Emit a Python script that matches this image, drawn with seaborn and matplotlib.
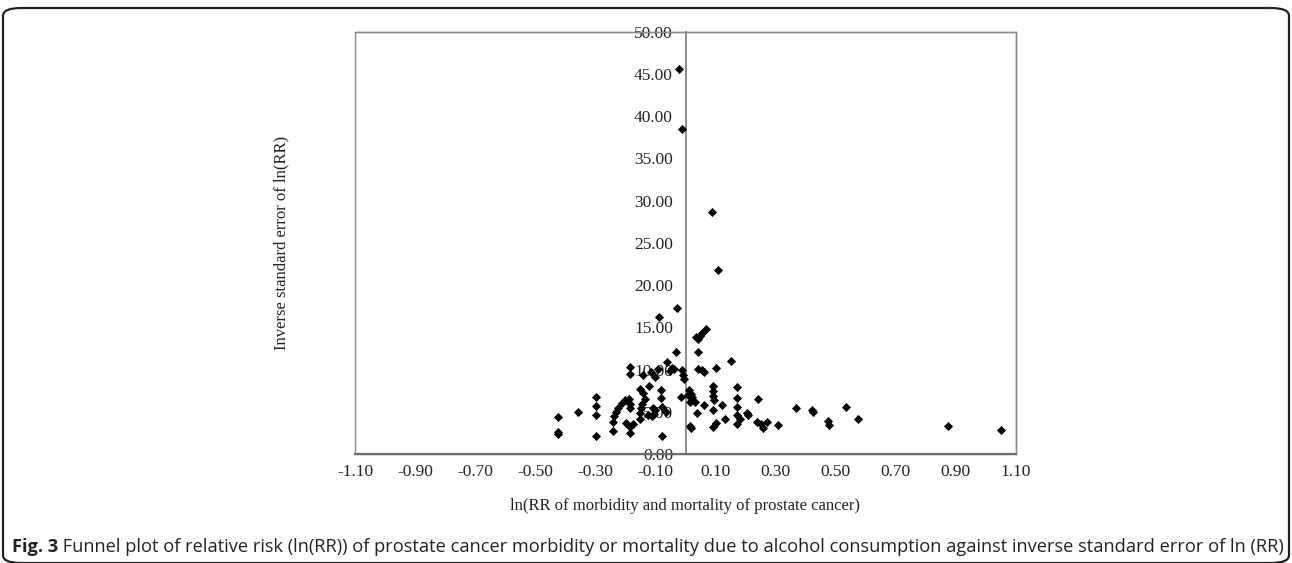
import matplotlib
matplotlib.use("Agg")
import matplotlib.pyplot as plt
import seaborn as sns
import pandas as pd
from matplotlib.patches import FancyBboxPatch

# ln(RR) values (x) and inverse standard error (y)
ln_rr = [
    -0.425, -0.425, -0.425, -0.358, -0.297, -0.297, -0.297, -0.297,
    -0.242, -0.242, -0.238, -0.231, -0.224, -0.212, -0.201, -0.187,
    -0.185, -0.185, -0.185, -0.185, -0.198, -0.185, -0.185, -0.176,
    -0.151, -0.151, -0.149, -0.146, -0.140, -0.151, -0.142, -0.135,
    -0.120, -0.124, -0.112, -0.107, -0.105, -0.101, -0.101, -0.116,
    -0.090, -0.087, -0.082, -0.082, -0.079, -0.079, -0.065, -0.061,
    -0.046, -0.038, -0.030, -0.028, -0.013, -0.007, -0.004, -0.015,
    -0.022, -0.011, -0.052,
    0.087, 0.108, 0.035, 0.043, 0.048, 0.054, 0.069, 0.043,
    0.041, 0.054, 0.062, 0.101, 0.150, 0.093, 0.093, 0.093,
    0.094, 0.013, 0.017, 0.021, 0.015, 0.030, 0.062, 0.039,
    0.093, 0.120, 0.133, 0.172, 0.172, 0.172, 0.172, 0.180,
    0.172, 0.206, 0.209, 0.240, 0.238, 0.250, 0.258, 0.271,
    0.307, 0.368, 0.421, 0.425, 0.473, 0.479, 0.534, 0.575,
    0.874, 1.050, 0.015, 0.019, 0.093, 0.101, 0.009,
]
inv_se = [
    4.42, 2.64, 2.37, 5.01, 6.79, 5.65, 4.66, 2.10,
    2.76, 3.83, 4.50, 5.01, 5.48, 6.00, 6.39, 6.47,
    5.92, 5.41, 10.26, 9.43, 3.63, 3.23, 2.45, 3.55,
    4.10, 4.82, 5.41, 5.92, 9.35, 7.66, 7.18, 6.47,
    8.05, 4.62, 4.50, 5.41, 4.74, 5.21, 9.08, 9.75,
    10.03, 16.25, 7.58, 6.59, 5.55, 2.13, 5.00, 10.93,
    10.14, 10.03, 12.11, 17.30, 9.94, 9.35, 8.84, 6.79,
    45.60, 38.50, 9.87,
    28.70, 21.80, 13.80, 13.60, 14.00, 14.30, 14.80, 12.11,
    10.03, 9.94, 9.75, 10.14, 11.05, 8.05, 7.45, 6.90,
    6.39, 7.58, 7.10, 6.70, 6.19, 6.15, 5.80, 4.89,
    5.21, 5.75, 4.20, 7.90, 6.59, 5.60, 4.62, 4.10,
    3.55, 4.80, 4.62, 6.57, 3.77, 3.60, 3.05, 3.83,
    3.40, 5.43, 5.18, 4.94, 3.94, 3.43, 5.56, 4.18,
    3.37, 2.84, 3.30, 3.10, 3.23, 3.67, 6.98,
]
x_ticks = [-1.10, -0.90, -0.70, -0.50, -0.30, -0.10, 0.10, 0.30, 0.50, 0.70, 0.90, 1.10]
y_ticks = [0, 5, 10, 15, 20, 25, 30, 35, 40, 45, 50]
x_label = "ln(RR of morbidity and mortality of prostate cancer)"
y_label = "Inverse standard error of ln(RR)"
cap_bold = "Fig. 3"
cap_text = (" Funnel plot of relative risk (ln(RR)) of prostate cancer morbidity or mortality "
            "due to alcohol consumption against inverse standard error of ln (RR)")

df = pd.DataFrame({"lnrr": ln_rr, "inv_se": inv_se})

sns.set_style("white")
plt.rcParams["font.family"] = ["Liberation Serif", "DejaVu Serif"]

W, H = 1292, 563
fig = plt.figure(figsize=(W / 100, H / 100), dpi=100)
ax = fig.add_axes([355 / W, 1 - 454 / H, (1016 - 355) / W, (454 - 31.7) / H])

sns.scatterplot(data=df, x="lnrr", y="inv_se", marker="D", color="black",
                s=17, edgecolor="black", linewidth=0.5, ax=ax, zorder=3)

ax.set_xlim(-1.10, 1.10)
ax.set_ylim(0, 50)
ax.set_xticks(x_ticks)
ax.set_xticklabels([f"{v:.2f}" for v in x_ticks])
ax.set_yticks(y_ticks)
ax.set_yticklabels([f"{v:.2f}" for v in y_ticks])

# y axis drawn through x = 0
ax.spines["left"].set_position(("data", 0))
for s in ["top", "right"]:
    ax.spines[s].set_color("#8c8c8c")
    ax.spines[s].set_linewidth(1.0)
ax.spines["left"].set_color("#7a7a7a")
ax.spines["left"].set_linewidth(1.2)
ax.spines["bottom"].set_color("#6e6e6e")
ax.spines["bottom"].set_linewidth(1.6)
ax.patch.set_edgecolor("#8c8c8c")
ax.patch.set_linewidth(1.0)

ax.tick_params(axis="both", which="both", direction="out", length=5, width=0.9,
               color="#6e6e6e", labelsize=12.5, labelcolor="#222222")
ax.tick_params(axis="y", pad=4)
ax.tick_params(axis="x", pad=2)

ax.set_xlabel(x_label, fontsize=12, color="#222222")
ax.set_ylabel(y_label, fontsize=12, color="#222222")
ax.yaxis.set_label_coords((289 - 355) / 661, 0.5)
ax.xaxis.set_label_coords(0.5, -(498 - 454) / 422.3)

# outer panel border
border = FancyBboxPatch((3 / W, 0.0 / H), (W - 6) / W, (H - 8) / H,
                        boxstyle="round,pad=0,rounding_size=0.014",
                        transform=fig.transFigure, facecolor="none",
                        edgecolor="#222222", linewidth=1.6)
fig.patches.append(border)

# caption
fig.canvas.draw()
renderer = fig.canvas.get_renderer()
cap_y = 1 - 547 / H
t1 = fig.text(12 / W, cap_y, cap_bold, fontsize=13.15, fontweight="bold",
              family=["Open Sans", "DejaVu Sans"], color="#222222", va="center")
bb = t1.get_window_extent(renderer)
fig.text(bb.x1 / W, cap_y, cap_text, fontsize=13.15,
         family=["Open Sans", "DejaVu Sans"], color="#222222", va="center")

fig.savefig("out.png", dpi=100)
